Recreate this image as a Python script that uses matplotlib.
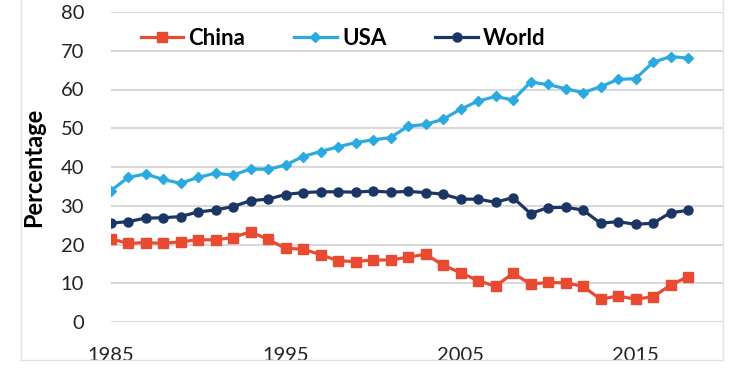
import matplotlib
matplotlib.use("Agg")
import matplotlib.pyplot as plt
from matplotlib.lines import Line2D

plt.rcParams['font.family'] = ['Lato', 'DejaVu Sans']

years = list(range(1985, 2019))
china = [21.5, 20.3, 20.5, 20.3, 20.7, 21.2, 21.2, 21.8, 23.3, 21.3, 19.0, 18.8,
         17.4, 15.8, 15.6, 16.0, 16.0, 16.7, 17.5, 14.7, 12.7, 10.7, 9.2, 12.6,
         9.8, 10.2, 10.1, 9.2, 5.9, 6.7, 5.9, 6.5, 9.5, 11.7]
usa = [33.8, 37.3, 38.2, 36.8, 35.8, 37.3, 38.4, 37.9, 39.5, 39.4, 40.5, 42.7,
       44.0, 45.2, 46.3, 47.0, 47.6, 50.5, 51.0, 52.3, 54.9, 57.0, 58.2, 57.3,
       61.9, 61.3, 60.2, 59.2, 60.7, 62.6, 62.8, 67.0, 68.5, 68.1]
world = [25.5, 25.9, 26.8, 26.9, 27.2, 28.4, 28.9, 29.8, 31.3, 31.7, 32.9, 33.4,
         33.6, 33.6, 33.5, 33.8, 33.5, 33.7, 33.4, 33.0, 31.7, 31.7, 30.9, 32.1,
         28.0, 29.5, 29.6, 28.9, 25.5, 25.9, 25.2, 25.5, 28.2, 28.8]
x_ticks = [1985, 1995, 2005, 2015]
y_ticks = [0, 10, 20, 30, 40, 50, 60, 70, 80]

fig = plt.figure(figsize=(7.38, 3.76), dpi=100)
ax = fig.add_axes([110.5 / 738, 1 - 322 / 376, 612.5 / 738, 310 / 376])

ax.plot(years, china, color='#E84A32', lw=2.3, marker='s', ms=7, label='China')
ax.plot(years, usa, color='#2AAAE1', lw=2.3, marker='D', ms=5, label='USA')
ax.plot(years, world, color='#1B3665', lw=2.3, marker='o', ms=6.5, label='World')

ax.set_xlim(1985, 2020)
ax.set_ylim(0, 80)
ax.set_xticks(x_ticks)
ax.set_yticks(y_ticks)
ax.tick_params(length=0, labelsize=14.5, colors='#222222')
ax.tick_params(axis='y', pad=19)
ax.tick_params(axis='x', pad=18)
ax.grid(axis='y', color='#d9d9d9', lw=1.5)
ax.set_axisbelow(True)
for s in ax.spines.values():
    s.set_visible(False)
for lab in ax.get_yticklabels() + ax.get_xticklabels():
    lab.set_clip_on(False)

ax.set_ylabel('Percentage', fontsize=17, fontweight='bold', labelpad=11)

leg = ax.legend(loc='center left', bbox_to_anchor=(0.035, 0.916), ncol=3,
                frameon=False, handlelength=1.9, handletextpad=0.25,
                columnspacing=2.2, borderaxespad=0,
                prop={'size': 16, 'weight': 'bold'})

# faint chart-area border
border = dict(color='#e2e2e2', lw=1, transform=fig.transFigure)
fig.add_artist(Line2D([21 / 738, 21 / 738], [1, 1 - 360 / 376], **border))
fig.add_artist(Line2D([723 / 738, 723 / 738], [1, 1 - 360 / 376], **border))
fig.add_artist(Line2D([21 / 738, 723 / 738], [1 - 360 / 376, 1 - 360 / 376], **border))

fig.savefig('out.png', dpi=100)
